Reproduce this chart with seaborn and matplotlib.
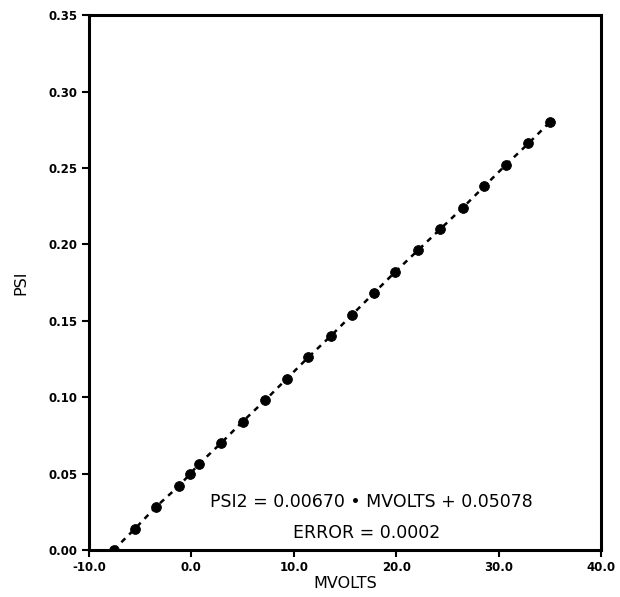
import matplotlib
matplotlib.use("Agg")
import matplotlib.pyplot as plt
import seaborn as sns
import pandas as pd

mvolts = [-7.6, -5.5, -3.5, -1.2, -0.1, 0.7, 2.9, 5.0, 7.2, 9.3, 11.4, 13.6,
          15.7, 17.8, 19.9, 22.1, 24.3, 26.5, 28.6, 30.7, 32.9, 35.0]
psi = [0.000, 0.014, 0.028, 0.042, 0.050, 0.056, 0.070, 0.084, 0.098, 0.112,
       0.126, 0.140, 0.154, 0.168, 0.182, 0.196, 0.210, 0.224, 0.238, 0.252,
       0.266, 0.280]
x_ticks = [-10, 0, 10, 20, 30, 40]
x_tick_labels = ["-10.0", "0.0", "10.0", "20.0", "30.0", "40.0"]
y_ticks = [0.00, 0.05, 0.10, 0.15, 0.20, 0.25, 0.30, 0.35]
y_tick_labels = ["0.00", "0.05", "0.10", "0.15", "0.20", "0.25", "0.30", "0.35"]
equation_text = "PSI2 = 0.00670 \u2022 MVOLTS + 0.05078"
error_text = "ERROR = 0.0002"

sns.set_style("ticks")
plt.rcParams['font.family'] = ['DejaVu Sans']
plt.rcParams['text.color'] = 'black'
plt.rcParams['axes.labelcolor'] = 'black'

df = pd.DataFrame({"MVOLTS": mvolts, "PSI": psi})

fig = plt.figure(figsize=(6.2, 5.97), dpi=100)
ax = fig.add_axes([0.1435, 0.0787, 0.826, 0.896])

sns.lineplot(data=df, x="MVOLTS", y="PSI", ax=ax, color="black",
             linestyle=(0, (2.2, 2.2)), linewidth=1.8, sort=True)
sns.scatterplot(data=df, x="MVOLTS", y="PSI", ax=ax, color="black", s=50,
                edgecolor="black", zorder=3)

ax.set_xlim(-10, 40)
ax.set_ylim(0, 0.35)
ax.set_xticks(x_ticks)
ax.set_xticklabels(x_tick_labels, fontsize=8.5, fontweight="bold")
ax.set_yticks(y_ticks)
ax.set_yticklabels(y_tick_labels, fontsize=8.5, fontweight="bold")
ax.tick_params(direction="out", length=5, width=1.5, colors="black", pad=3)
for sp in ax.spines.values():
    sp.set_visible(True)
    sp.set_linewidth(2.2)
    sp.set_color("black")

ax.set_xlabel("MVOLTS", fontsize=11.5, labelpad=1, color="black")
ax.set_ylabel("PSI", fontsize=11.5, labelpad=15, color="black")

ax.text(0.552, 0.09, equation_text, transform=ax.transAxes,
        ha="center", va="center", fontsize=12.5, color="black")
ax.text(0.543, 0.032, error_text, transform=ax.transAxes,
        ha="center", va="center", fontsize=12.5, color="black")

fig.savefig("out.png", dpi=100, facecolor="white")
